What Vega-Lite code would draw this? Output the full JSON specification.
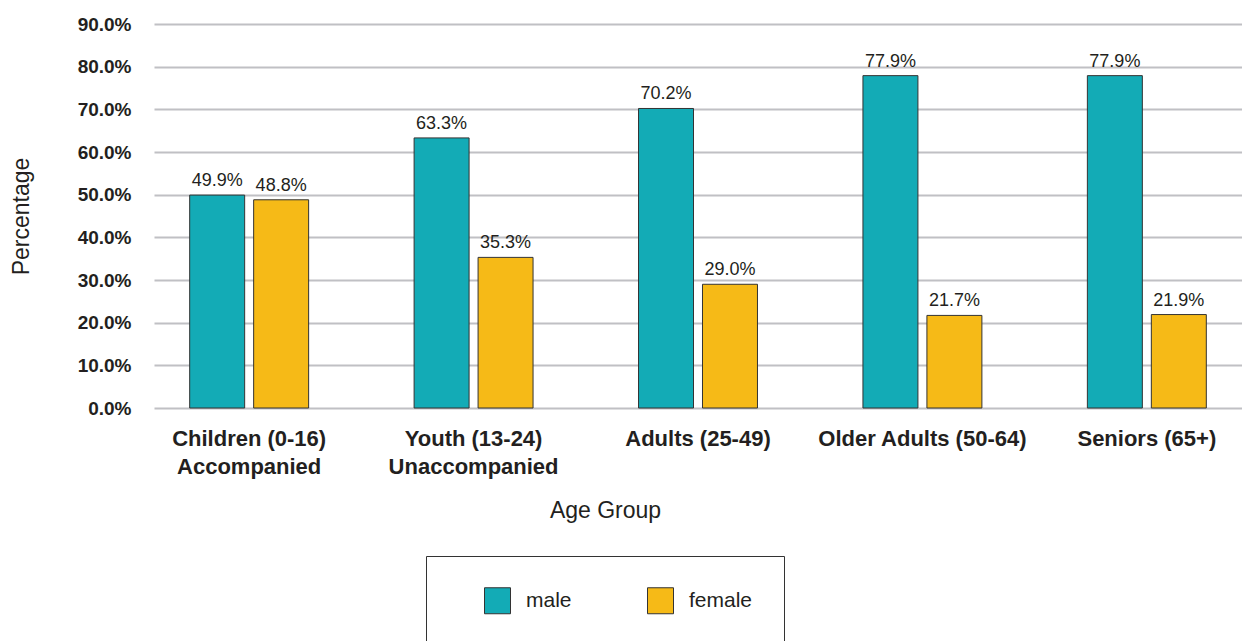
{
  "$schema": "https://vega.github.io/schema/vega-lite/v6.json",
  "width": 1088,
  "height": 384,
  "autosize": {"type": "none"},
  "padding": {"left": 154, "top": 24, "right": 0, "bottom": 233},
  "background": "white",
  "config": {"view": {"stroke": null}, "font": "Liberation Sans"},
  "data": {
    "values": [
      {"group": "Children (0-16)\nAccompanied", "sex": "male", "pct": 0.499},
      {"group": "Children (0-16)\nAccompanied", "sex": "female", "pct": 0.488},
      {"group": "Youth (13-24)\nUnaccompanied", "sex": "male", "pct": 0.633},
      {"group": "Youth (13-24)\nUnaccompanied", "sex": "female", "pct": 0.353},
      {"group": "Adults (25-49)", "sex": "male", "pct": 0.702},
      {"group": "Adults (25-49)", "sex": "female", "pct": 0.290},
      {"group": "Older Adults (50-64)", "sex": "male", "pct": 0.779},
      {"group": "Older Adults (50-64)", "sex": "female", "pct": 0.217},
      {"group": "Seniors (65+)", "sex": "male", "pct": 0.779},
      {"group": "Seniors (65+)", "sex": "female", "pct": 0.219}
    ]
  },
  "encoding": {
    "x": {
      "field": "group",
      "type": "nominal",
      "sort": null,
      "scale": {"paddingInner": 0.47, "paddingOuter": 0.159},
      "axis": {
        "title": "Age Group",
        "labelExpr": "split(datum.value, '\\n')",
        "labelAngle": 0,
        "labelFont": "Liberation Sans",
        "labelFontSize": 22,
        "labelFontWeight": "bold",
        "labelColor": "#231F20",
        "labelLineHeight": 28,
        "labelPadding": 20,
        "labelLimit": 400,
        "domain": false,
        "ticks": false,
        "tickSize": 0,
        "titleFont": "Liberation Sans",
        "titleFontSize": 23,
        "titleFontWeight": "normal",
        "titleColor": "#231F20",
        "titlePadding": 22,
        "titleX": 451,
        "titleAlign": "center"
      }
    },
    "xOffset": {
      "field": "sex",
      "sort": ["male", "female"],
      "scale": {"paddingInner": 0.1406, "paddingOuter": 0}
    },
    "y": {
      "field": "pct",
      "type": "quantitative",
      "scale": {"domain": [0, 0.9], "nice": false},
      "axis": {
        "title": "Percentage",
        "format": ".1%",
        "values": [0, 0.1, 0.2, 0.3, 0.4, 0.5, 0.6, 0.7, 0.8, 0.9],
        "labelFont": "Liberation Sans",
        "labelFontSize": 19,
        "labelFontWeight": "bold",
        "labelColor": "#231F20",
        "labelPadding": 23,
        "domain": false,
        "ticks": false,
        "tickSize": 0,
        "grid": true,
        "gridColor": "#C0C0C4",
        "gridWidth": 2,
        "titleFont": "Liberation Sans",
        "titleFontSize": 23,
        "titleFontWeight": "normal",
        "titleColor": "#231F20",
        "titlePadding": 44
      }
    }
  },
  "layer": [
    {
      "mark": {"type": "bar", "stroke": "#333333", "strokeWidth": 1},
      "encoding": {
        "color": {
          "field": "sex",
          "type": "nominal",
          "scale": {"domain": ["male", "female"], "range": ["#13ABB6", "#F6BA17"]},
          "legend": {
            "orient": "none",
            "legendX": 272,
            "legendY": 532,
            "direction": "horizontal",
            "title": null,
            "symbolType": "square",
            "symbolSize": 676,
            "symbolStrokeColor": "#333333",
            "symbolStrokeWidth": 1,
            "symbolOpacity": 1,
            "labelFont": "Liberation Sans",
            "labelFontSize": 21,
            "labelColor": "#231F20",
            "labelOffset": 15,
            "padding": 31,
            "strokeColor": "#333333",
            "columnPadding": 48,
            "symbolOffset": 27
          }
        }
      }
    },
    {
      "mark": {"type": "text", "baseline": "alphabetic", "dy": -9, "fontSize": 18, "font": "Liberation Sans", "color": "#231F20"},
      "encoding": {
        "text": {"field": "pct", "type": "quantitative", "format": ".1%"}
      }
    }
  ]
}
